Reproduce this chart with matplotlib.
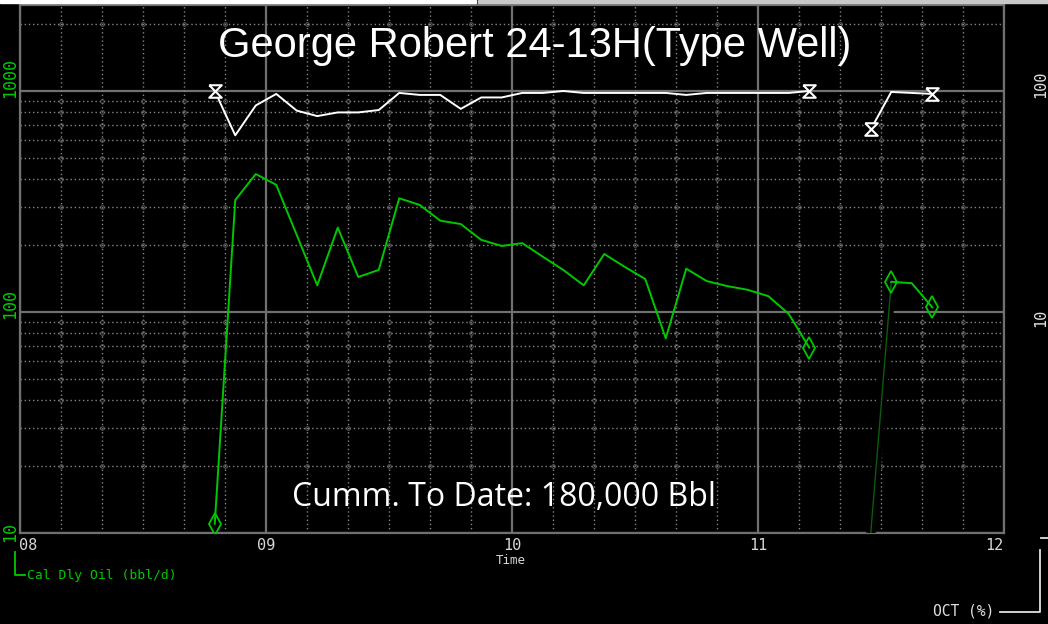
import numpy as np
import matplotlib
matplotlib.use('Agg')
import matplotlib.pyplot as plt
from matplotlib.path import Path
from matplotlib.ticker import FixedLocator, NullFormatter

# monthly production, Oct 2008 .. Sep 2011 (mid-month)
months = ['2008-10', '2008-11', '2008-12', '2009-01', '2009-02', '2009-03', '2009-04',
          '2009-05', '2009-06', '2009-07', '2009-08', '2009-09', '2009-10', '2009-11',
          '2009-12', '2010-01', '2010-02', '2010-03', '2010-04', '2010-05', '2010-06',
          '2010-07', '2010-08', '2010-09', '2010-10', '2010-11', '2010-12', '2011-01',
          '2011-02', '2011-03', '2011-04', '2011-05', '2011-06', '2011-07', '2011-08',
          '2011-09']
oil = [11, 321, 421, 376, 223, 132, 241, 144, 155, 327, 305, 259, 250, 212, 199,
       205, 178, 155, 132, 183, 160, 141, 76, 157, 138, 131, 126, 118, 98, 69,
       np.nan, np.nan, 10, 137, 135, 105]
oct_pct = [100, 63, 86, 97, 81.5, 77, 80, 80, 82, 98, 96, 96, 83, 93.5, 93.5,
           98, 98, 100, 98, 98, 98, 98, 98, 96, 98, 98, 98, 98, 98, 100,
           np.nan, np.nan, 67, 99, 98, 97]

title = 'George Robert 24-13H(Type Well)'
cumm = 'Cumm. To Date: 180,000 Bbl'
xlabels = ['08', '09', '10', '11', '12']

t = np.array([int(m[:4]) + (int(m[5:]) - 0.5) / 12 for m in months])
oil = np.array(oil, dtype=float)
oct_pct = np.array(oct_pct, dtype=float)

W, H = 1048, 624
fig = plt.figure(figsize=(W / 100, H / 100), dpi=100, facecolor='black')
ax = fig.add_axes([20 / W, 1 - 533 / H, (1004 - 20) / W, (533 - 5) / H])
ax.set_facecolor('black')

ymin, ymax = 10, 10 ** (1 + 528 / 221)
ax.set_yscale('log')
ax.set_ylim(ymin, ymax)
ax.set_xlim(2008, 2012)

green = '#00c800'
grid_major = '#707070'
grid_minor = '#858585'

# grid
xmaj = np.arange(2008, 2013)
xmin = [x + k / 6 for x in range(2008, 2012) for k in range(1, 6)]
ymaj = [10, 100, 1000]
ymin_t = [d * m for d in (10, 100, 1000) for m in range(2, 10) if d * m < ymax]
for x in xmaj:
    ax.axvline(x, color=grid_major, lw=1.6, zorder=1)
for y in ymaj:
    ax.axhline(y, color=grid_major, lw=1.6, zorder=1)
for x in xmin:
    ax.axvline(x, color=grid_minor, lw=1, ls=(0, (1, 2)), zorder=1)
for y in ymin_t:
    ax.axhline(y, color=grid_minor, lw=1, ls=(0, (1, 2)), zorder=1)
gx, gy = np.meshgrid(xmin, ymin_t)
ax.plot(gx.ravel(), gy.ravel(), ls='none', marker='o', ms=2.6, mfc='none',
        mec='#6a6a6a', mew=0.6, zorder=1)

for s in ax.spines.values():
    s.set_color(grid_major)
    s.set_linewidth(1.6)
ax.tick_params(length=0, which='both')
ax.set_xticks(xmaj)
ax.set_xticklabels([])
ax.yaxis.set_major_locator(FixedLocator(ymaj))
ax.yaxis.set_minor_formatter(NullFormatter())
ax.set_yticklabels([])

# oil line
seg1 = slice(0, 30)
ax.plot(t[seg1], oil[seg1], color=green, lw=1.4, zorder=4)
ax.plot(t[32:34], oil[32:34], color='black', lw=7, zorder=3, solid_capstyle='butt')
ax.plot(t[32:34], oil[32:34], color='#0b5c0b', lw=1, zorder=4)
ax.plot(t[33:36], oil[33:36], color=green, lw=1.4, zorder=4)
ends = [0, 29, 33, 35]
ax.plot(t[ends], oil[ends], ls='none', marker='d', ms=11, mfc='none', mec=green,
        mew=1.3, zorder=5)

# OCT line on right scale
ax2 = ax.twinx()
ax2.set_yscale('log')
ax2.set_ylim(ymin / 10, ymax / 10)
ax2.set_xlim(2008, 2012)
ax2.axis('off')
hourglass = Path([(-1, 1), (1, 1), (-1, -1), (1, -1), (-1, 1)])
ax2.plot(t[seg1], oct_pct[seg1], color='white', lw=1.4, zorder=4)
ax2.plot(t[32:36], oct_pct[32:36], color='white', lw=1.4, zorder=4)
hends = [0, 29, 32, 35]
ax2.plot(t[hends], oct_pct[hends], ls='none', marker=hourglass, ms=9, mfc='black',
         mec='white', mew=1.5, zorder=5)

# text
mono = 'DejaVu Sans Mono'
fig.text(535 / W, 1 - 46 / H, title, color='white', fontsize=30,
         family='Liberation Sans', ha='center', va='center')
ax.text(0.492, 0.068, cumm, transform=ax.transAxes, color='white', fontsize=23,
        family='Open Sans', ha='center', va='center')

for val, py in [(1000, 78), (100, 304), (10, 532)]:
    fig.text(10 / W, 1 - py / H, str(val), color=green, fontsize=12, family=mono,
             rotation=90, ha='center', va='center')
for val, py in [(100, 84), (10, 318)]:
    fig.text(1033 / W, 1 - py / H, str(val), color='#e0e0e0', fontsize=11,
             family=mono, rotation=90, ha='left', va='center')

for lab, x in zip(xlabels, xmaj):
    px = 20 + (x - 2008) * 246
    px = min(max(px, 28), 994)
    fig.text(px / W, 1 - 545 / H, lab, color='#d8d8d8', fontsize=11, family=mono,
             ha='center', va='center')
fig.text(511 / W, 1 - 561 / H, 'Time', color='#d8d8d8', fontsize=9, family=mono,
         ha='center', va='center')

# legend marks
fig.text(27 / W, 1 - 575 / H, 'Cal Dly Oil (bbl/d)', color=green, fontsize=9.4,
         family=mono, ha='left', va='center')
fig.add_artist(plt.Line2D([15 / W, 15 / W, 25 / W], [1 - 552 / H, 1 - 575 / H, 1 - 575 / H],
                          color=green, lw=1.3))
fig.text(994 / W, 1 - 611 / H, 'OCT (%)', color='#e0e0e0', fontsize=10.5,
         family=mono, ha='right', va='center')
fig.add_artist(plt.Line2D([1000 / W, 1040 / W, 1040 / W], [1 - 612 / H, 1 - 612 / H, 1 - 550 / H],
                          color='#e0e0e0', lw=1.3))
fig.add_artist(plt.Line2D([1041 / W, 1048 / W], [1 - 538 / H, 1 - 538 / H],
                          color='#e0e0e0', lw=1.3))

# top screen strip
fig.add_artist(plt.Rectangle((0, 1 - 3 / H), 476 / W, 3 / H, color='white'))
fig.add_artist(plt.Rectangle((478 / W, 1 - 3 / H), 1, 3 / H, color='#c8c8c8'))

fig.savefig('out.png', dpi=100, facecolor='black')
